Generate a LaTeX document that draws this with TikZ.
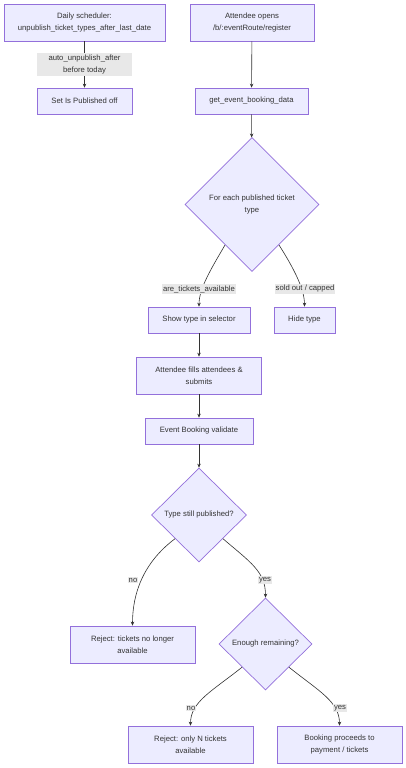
\documentclass[tikz,border=0pt]{standalone}
\usepackage{fontspec}
\setmainfont{Liberation Sans}
\usetikzlibrary{shapes.geometric,arrows.meta,calc}
\definecolor{nodefill}{HTML}{ECECFF}
\definecolor{nodeborder}{HTML}{9370DB}
\definecolor{linecol}{HTML}{333333}
\definecolor{lblbg}{HTML}{E8E8E8}
\definecolor{txt}{HTML}{333333}
\begin{document}
\begin{tikzpicture}[x=1pt,y=-1pt,
 every node/.style={font=\fontsize{7.7}{11.7}\selectfont, text=txt, align=center},
 box/.style={rectangle, draw=nodeborder, fill=nodefill, line width=0.7pt, inner sep=0pt},
 dia/.style={diamond, draw=nodeborder, fill=nodefill, line width=0.7pt, inner sep=0pt},
 lbl/.style={fill=lblbg, inner sep=1pt},
 arr/.style={draw=linecol, line width=0.6pt, -{Stealth[length=4pt,width=3.5pt]}}]
\useasboundingbox (0,0) rectangle (406,768);
% nodes
\node[box, minimum width=161, minimum height=37] (sched) at (84.5,22.5) {Daily scheduler:\\unpublish\_ticket\_types\_after\_last\_date};
\node[box, minimum width=124, minimum height=37] (opens) at (252,22.5) {Attendee opens\\/b/:eventRoute/register};
\node[box, minimum width=95, minimum height=26] (setoff) at (84.5,101) {Set Is Published off};
\node[box, minimum width=113, minimum height=26] (getdata) at (251.5,101) {get\_event\_booking\_data};
\node[dia, minimum width=134, minimum height=134] (each) at (252,204.5) {For each published ticket\\type};
\node[box, minimum width=102, minimum height=26] (show) at (199,320) {Show type in selector};
\node[box, minimum width=61, minimum height=26] (hide) at (304.5,320) {Hide type};
\node[box, minimum width=125, minimum height=37] (fills) at (199,375.5) {Attendee fills attendees \&\\submits};
\node[box, minimum width=108, minimum height=26] (validate) at (199,431) {Event Booking validate};
\node[dia, minimum width=95, minimum height=94] (still) at (199,515) {Type still published?};
\node[box, minimum width=125, minimum height=37] (rejnl) at (132.5,644.5) {Reject: tickets no longer\\available};
\node[dia, minimum width=93, minimum height=92] (enough) at (265.5,644) {Enough remaining?};
\node[box, minimum width=125, minimum height=37] (rejn) at (190.5,744.5) {Reject: only N tickets\\available};
\node[box, minimum width=125, minimum height=37] (proceed) at (339.5,744.5) {Booking proceeds to\\payment / tickets};
% edges
\draw[arr] (sched) -- (setoff);
\draw[arr] (opens) -- (getdata);
\draw[arr] (getdata) -- (each);
\draw[arr] ($(each.west)!0.6!(each.south)$) .. controls +(-14,24) and +(0,-18) .. (show.north);
\draw[arr] ($(each.east)!0.6!(each.south)$) .. controls +(14,22) and +(0,-18) .. (hide.north);
\draw[arr] (show) -- (fills);
\draw[arr] (fills) -- (validate);
\draw[arr] (validate) -- (still);
\draw[arr] ($(still.west)!0.5!(still.south)$) .. controls +(-32,24) and +(0,-32) .. (rejnl.north);
\draw[arr] ($(still.east)!0.5!(still.south)$) .. controls +(28,24) and +(0,-26) .. (enough.north);
\draw[arr] ($(enough.west)!0.5!(enough.south)$) .. controls +(-30,24) and +(0,-24) .. (rejn.north);
\draw[arr] ($(enough.east)!0.5!(enough.south)$) .. controls +(30,24) and +(0,-24) .. (proceed.north);
% edge labels
\node[lbl, minimum width=95, minimum height=23, inner sep=0pt] (l1) at (84.5,64.5) {auto\_unpublish\_after\\before today};
\node[lbl] (l2) at (199,289) {are\_tickets\_available};
\node[lbl] (l3) at (305,289) {sold out / capped};
\node[lbl] (l4) at (133,580) {no};
\node[lbl] (l5) at (265,580) {yes};
\node[lbl] (l6) at (191,708) {no};
\node[lbl] (l7) at (340,708) {yes};
\end{tikzpicture}
\end{document}
